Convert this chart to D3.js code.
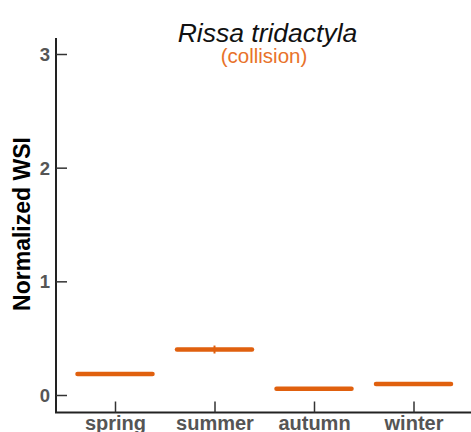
<!DOCTYPE html>
<html>
<head>
<meta charset="utf-8">
<script src="https://cdn.jsdelivr.net/npm/d3@7"></script>
<style>
  html, body { margin: 0; padding: 0; background: #fff; }
  svg { display: block; font-family: "Liberation Sans", Arial, Helvetica, sans-serif; }
</style>
</head>
<body>
<svg id="chart" width="471" height="432"></svg>
<script>
// Seasonal normalized WSI for Rissa tridactyla (collision)
const seasons = ["spring", "summer", "autumn", "winter"];
const wsiMean = [0.185, 0.40, 0.055, 0.097];
const wsiErr = [0.0, 0.035, 0.0, 0.0];
const yTicks = [0, 1, 2, 3];
const titleText = "Rissa tridactyla";
const subtitleText = "(collision)";
const yLabel = "Normalized WSI";

const orange = "#e0600e";
const svg = d3.select("#chart");

const x = d3.scalePoint().domain(seasons).range([115, 413.5]);
const y = d3.scaleLinear().domain([0, 3]).range([395, 54]);

const axisLeftX = 56, axisBottomY = 412.5;

// y axis spine
svg.append("line")
  .attr("x1", axisLeftX).attr("x2", axisLeftX)
  .attr("y1", 38).attr("y2", axisBottomY)
  .attr("stroke", "#222").attr("stroke-width", 2);

// x axis spine
svg.append("line")
  .attr("x1", axisLeftX - 1).attr("x2", 471)
  .attr("y1", axisBottomY).attr("y2", axisBottomY)
  .attr("stroke", "#222").attr("stroke-width", 2);

// y ticks (pointing inward)
const yAxis = d3.axisRight(y).tickValues(yTicks).tickSize(11).tickFormat(d3.format("d"));
const gy = svg.append("g").attr("transform", `translate(${axisLeftX},0)`).call(yAxis);
gy.select(".domain").remove();
gy.selectAll(".tick line").attr("stroke", "#333").attr("stroke-width", 1.5);
gy.selectAll(".tick text")
  .attr("x", -6).attr("dy", "0.35em")
  .attr("text-anchor", "end")
  .attr("fill", "#555").attr("font-size", 18.5).attr("font-weight", "bold");

// x ticks (pointing inward)
const xAxis = d3.axisTop(x).tickSize(11);
const gx = svg.append("g").attr("transform", `translate(0,${axisBottomY})`).call(xAxis);
gx.select(".domain").remove();
gx.selectAll(".tick line").attr("stroke", "#333").attr("stroke-width", 1.5);
gx.selectAll(".tick text")
  .attr("y", 17.5).attr("dy", 0)
  .attr("fill", "#555").attr("font-size", 20).attr("font-weight", "bold");

// seasonal mean bars
const halfW = 37.5;
svg.append("g").selectAll("line.mean")
  .data(seasons)
  .join("line")
  .attr("class", "mean")
  .attr("x1", d => x(d) - halfW)
  .attr("x2", d => x(d) + halfW)
  .attr("y1", (d, i) => y(wsiMean[i]))
  .attr("y2", (d, i) => y(wsiMean[i]))
  .attr("stroke", orange).attr("stroke-width", 4.5)
  .attr("stroke-linecap", "round");

// error whiskers
svg.append("g").selectAll("line.err")
  .data(seasons.filter((d, i) => wsiErr[i] > 0))
  .join("line")
  .attr("class", "err")
  .attr("x1", d => x(d)).attr("x2", d => x(d))
  .attr("y1", d => y(wsiMean[seasons.indexOf(d)] + wsiErr[seasons.indexOf(d)]))
  .attr("y2", d => y(wsiMean[seasons.indexOf(d)] - wsiErr[seasons.indexOf(d)]))
  .attr("stroke", orange).attr("stroke-width", 2);

// titles
svg.append("text")
  .attr("x", 267.5).attr("y", 41.5)
  .attr("text-anchor", "middle")
  .attr("font-size", 26.5).attr("font-style", "italic")
  .attr("fill", "#111")
  .text(titleText);

svg.append("text")
  .attr("x", 264).attr("y", 62.5)
  .attr("text-anchor", "middle")
  .attr("font-size", 20.5)
  .attr("fill", "#e8722a")
  .text(subtitleText);

// y label
svg.append("text")
  .attr("transform", "translate(30,224) rotate(-90)")
  .attr("text-anchor", "middle")
  .attr("font-size", 23).attr("font-weight", "bold")
  .attr("fill", "#000")
  .text(yLabel);
</script>
</body>
</html>
